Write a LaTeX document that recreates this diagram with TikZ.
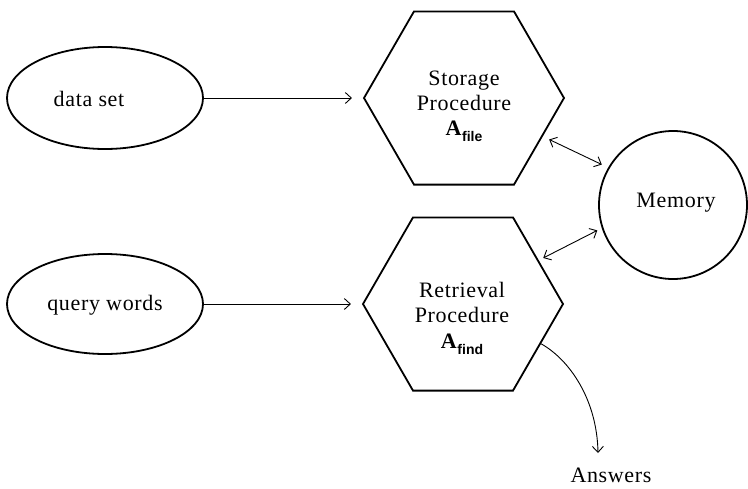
\documentclass[tikz,border=0pt]{standalone}
\usepackage{fontspec}
\setmainfont[LetterSpace=3]{Liberation Serif}
\newfontfamily\subfont{Liberation Sans}
\usetikzlibrary{shapes.geometric,arrows.meta}
\begin{document}
\begin{tikzpicture}[x=1pt,y=-1pt,
  shapeline/.style={draw, line width=1.8pt},
  oval/.style={shapeline, ellipse, minimum width=196pt, minimum height=102pt, inner sep=0pt},
  hexbox/.style={shapeline, regular polygon, regular polygon sides=6, minimum size=200pt, inner sep=0pt},
  membox/.style={shapeline, circle, minimum size=148pt, inner sep=0pt},
  lbl/.style={font=\fontsize{22}{25}\selectfont, align=center, inner sep=0pt},
  tip/.tip={Straight Barb[length=6pt,width=11pt]},
  conn/.style={line width=0.9pt, -tip},
  dconn/.style={line width=0.9pt, tip-tip},
]
\useasboundingbox (0,0) rectangle (748,488);
% shapes
\node[oval] (dset) at (105,98) {};
\node[lbl] (dsettxt) at (89,99) {data set};
\node[oval, minimum height=100pt] (qwords) at (105,304) {};
\node[lbl] (qwordstxt) at (105,305) {query words};
\node[hexbox] (hexA) at (464,98) {};
\node[lbl] (txtA) at (464,106) {Storage\\Procedure\\\textbf{A}\raisebox{-6pt}{\subfont\bfseries\fontsize{14}{14}\selectfont file}};
\node[hexbox] (hexB) at (463,304) {};
\node[lbl, text depth=0pt] (txtB) at (462,315) {Retrieval\\Procedure\\[1pt]\textbf{A}\raisebox{-6pt}{\subfont\bfseries\fontsize{14}{14}\selectfont find}};
\node[membox] (mem) at (673,205) {};
\node[lbl] (memtxt) at (676,203) {Memory};
\node[lbl] (ans) at (611,475) {Answers};
\coordinate (ansend) at (598,453);
% connectors
\draw[conn, shorten >=11pt] (dset.east) -- (hexA.west);
\draw[conn, shorten >=11pt] (qwords.east) -- (hexB.west);
\draw[dconn, shorten <=7pt, shorten >=7pt] (hexA.-26) -- (mem.150);
\draw[dconn, shorten <=5pt, shorten >=5pt] (hexB.30) -- (mem.198);
\draw[conn] (hexB.-27) .. controls (570,360) and (597,400) .. (ansend);
\end{tikzpicture}
\end{document}
